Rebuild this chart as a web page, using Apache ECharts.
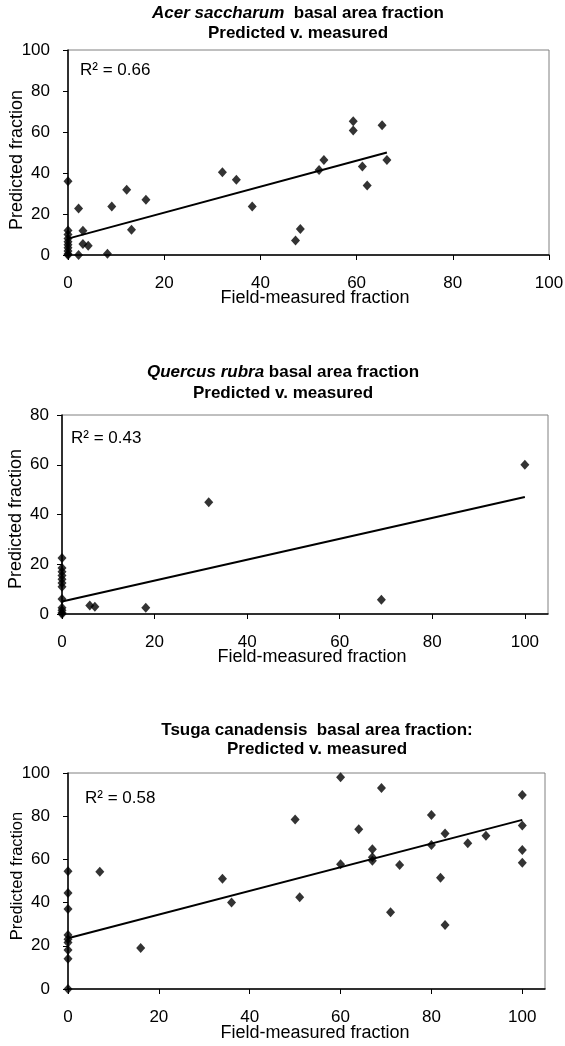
<!DOCTYPE html>
<html>
<head>
<meta charset="utf-8">
<script src="https://cdn.jsdelivr.net/npm/echarts@6/dist/echarts.min.js"></script>
<style>
  html, body { margin: 0; padding: 0; background: #fff; }
  #chart { width: 565px; height: 1046px; }
</style>
</head>
<body>
<div id="chart"></div>
<script>
// Acer saccharum
var acerMeasured  = [0, 0, 0, 0, 0, 0, 0, 0, 0, 0, 2.2, 2.2, 3.1, 3.1, 4.2, 8.2, 9.1, 12.2, 13.2, 16.2, 32.1, 35, 38.3, 47.3, 48.3, 52.2, 53.2, 59.3, 59.3, 61.2, 62.2, 65.3, 66.3]
var acerPredicted = [36, 12, 10, 8, 6.5, 5, 3.5, 2, 0.5, 0, 22.7, 0, 11.8, 5.4, 4.5, 0.6, 23.7, 31.8, 12.3, 26.9, 40.4, 36.7, 23.6, 7.1, 12.7, 41.5, 46.3, 65.3, 60.7, 43.2, 33.9, 63.3, 46.3]
var acerTrend = [[0, 8], [66.3, 50]]

// Quercus rubra
var quercusMeasured  = [0, 0, 0, 0, 0, 0, 0, 0, 0, 0, 0, 0, 6, 7.1, 18.1, 31.7, 69, 100]
var quercusPredicted = [22.5, 18.5, 17, 15.5, 14, 12.5, 11, 6, 2.5, 1.5, 0.5, 0, 3.4, 2.9, 2.5, 44.9, 5.7, 60]
var quercusTrend = [[0, 5], [100, 47]]

// Tsuga canadensis
var tsugaMeasured  = [0, 0, 0, 0, 0, 0, 0, 0, 0, 7, 16, 34, 36, 50, 51, 60, 60, 64, 67, 67, 67, 69, 71, 73, 80, 80, 82, 83, 83, 88, 92, 100, 100, 100, 100]
var tsugaPredicted = [0, 14, 18, 21.5, 23, 25, 37, 44.5, 54.5, 54.3, 19, 51, 40, 78.5, 42.5, 98, 57.8, 74, 64.7, 61, 59.4, 93, 35.5, 57.4, 80.6, 66.7, 51.5, 72, 29.6, 67.5, 71, 89.8, 75.7, 64.3, 58.5]
var tsugaTrend = [[0, 23.5], [100, 78.3]]

var xTicks = [0, 20, 40, 60, 80, 100]

var FONT = 'Liberation Sans, Arial, sans-serif'

function zip(xs, ys) {
  return xs.map(function (x, i) { return [x, ys[i]] })
}

function makeX(idx, max) {
  return {
    type: 'value', gridIndex: idx, min: 0, max: max, interval: 20,
    splitLine: { show: false },
    axisLine: { lineStyle: { color: '#000', width: 1.5 } },
    axisTick: { length: 5, lineStyle: { color: '#000' }, customValues: xTicks },
    axisLabel: { color: '#000', fontSize: 17, fontFamily: FONT, margin: 20, customValues: xTicks }
  }
}

function makeY(idx, max, margin) {
  return {
    type: 'value', gridIndex: idx, min: 0, max: max, interval: 20,
    splitLine: { show: false },
    axisLine: { show: true, lineStyle: { color: '#000', width: 1.5 } },
    axisTick: { show: true, length: 5, lineStyle: { color: '#000' } },
    axisLabel: { color: '#000', fontSize: 17, fontFamily: FONT, margin: margin }
  }
}

function scatter(idx, data) {
  return {
    type: 'scatter', xAxisIndex: idx, yAxisIndex: idx, data: data,
    symbol: 'diamond', symbolSize: [9, 10], clip: false,
    itemStyle: { color: '#000' }
  }
}

function trend(idx, data) {
  return {
    type: 'line', xAxisIndex: idx, yAxisIndex: idx, data: data,
    symbol: 'none', silent: true, z: 3,
    lineStyle: { color: '#000', width: 2 }
  }
}

function txt(x, y, text, size, weight, extra) {
  var s = {
    text: text, x: x, y: y, fill: '#000',
    font: (weight || 'normal') + ' ' + size + 'px ' + FONT,
    textAlign: 'center', textVerticalAlign: 'middle'
  }
  if (extra) Object.assign(s, extra)
  return { type: 'text', style: s, silent: true }
}

function yName(x, y, size) {
  var t = txt(0, 0, 'Predicted fraction', size)
  t.x = x
  t.y = y
  t.rotation = Math.PI / 2
  return t
}

var italicRich = {
  i: { fontStyle: 'italic', fontWeight: 'bold', fontSize: 17, fontFamily: FONT, fill: '#000' },
  b: { fontWeight: 'bold', fontSize: 17, fontFamily: FONT, fill: '#000' }
}

var chart = echarts.init(document.getElementById('chart'))
chart.setOption({
  backgroundColor: '#fff',
  animation: false,
  grid: [
    { left: 68, top: 50, width: 481, height: 205, show: true, borderColor: '#808080', borderWidth: 1, outerBoundsMode: 'none' },
    { left: 62, top: 415, width: 486, height: 199, show: true, borderColor: '#808080', borderWidth: 1, outerBoundsMode: 'none' },
    { left: 68, top: 773, width: 477, height: 216, show: true, borderColor: '#808080', borderWidth: 1, outerBoundsMode: 'none' }
  ],
  xAxis: [makeX(0, 100), makeX(1, 105), makeX(2, 105)],
  yAxis: [makeY(0, 100, 18), makeY(1, 80, 13), makeY(2, 100, 18)],
  series: [
    scatter(0, zip(acerMeasured, acerPredicted)),
    trend(0, acerTrend),
    scatter(1, zip(quercusMeasured, quercusPredicted)),
    trend(1, quercusTrend),
    scatter(2, zip(tsugaMeasured, tsugaPredicted)),
    trend(2, tsugaTrend)
  ],
  graphic: [
    // chart 1
    txt(298, 13, '{i|Acer saccharum}{b|  basal area fraction}', 17, 'bold', { rich: italicRich }),
    txt(298, 33, 'Predicted v. measured', 17, 'bold'),
    txt(80, 70, 'R² = 0.66', 17, 'normal', { textAlign: 'left' }),
    yName(17, 160, 18),
    txt(315, 298, 'Field-measured fraction', 18),
    // chart 2
    txt(283, 372, '{i|Quercus rubra}{b| basal area fraction}', 17, 'bold', { rich: italicRich }),
    txt(283, 393, 'Predicted v. measured', 17, 'bold'),
    txt(71, 438, 'R² = 0.43', 17, 'normal', { textAlign: 'left' }),
    yName(16, 519, 18),
    txt(312, 657, 'Field-measured fraction', 18),
    // chart 3
    txt(317, 730, 'Tsuga canadensis  basal area fraction:', 17, 'bold'),
    txt(317, 749, 'Predicted v. measured', 17, 'bold'),
    txt(85, 798, 'R² = 0.58', 17, 'normal', { textAlign: 'left' }),
    yName(17, 876, 16.5),
    txt(315, 1033, 'Field-measured fraction', 18)
  ]
})
</script>
</body>
</html>
